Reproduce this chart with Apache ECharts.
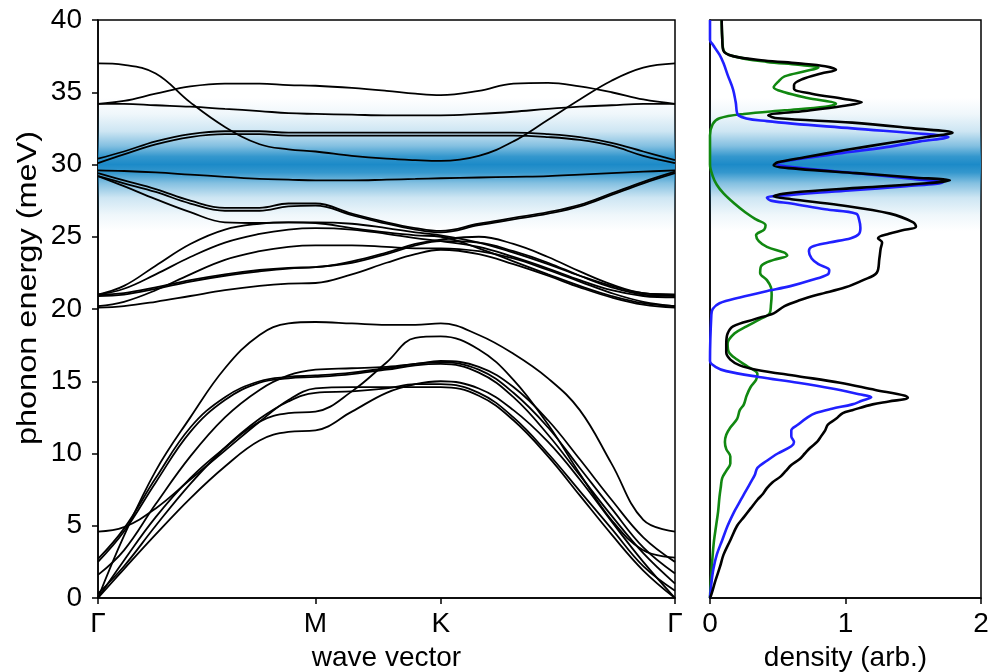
<!DOCTYPE html>
<html><head><meta charset="utf-8">
<script src="https://cdn.jsdelivr.net/npm/echarts@6/dist/echarts.min.js"></script>
<style>html,body{margin:0;padding:0;background:#fff}#c{width:990px;height:672px}</style>
</head><body><div id="c"></div>
<script>
// positions along the Γ-M-K-Γ path (fraction of total length)
const pathPos = [0, 0.045, 0.1, 0.16, 0.22, 0.28, 0.33, 0.377, 0.44, 0.5, 0.55, 0.594, 0.66, 0.72, 0.78, 0.835, 0.89, 0.945, 1.0];
const pathTickPos = [0, 0.377, 0.594, 1];
const pathTickLabels = ['Γ', 'M', 'K', 'Γ'];

// phonon energies (meV) of each band at pathPos
const acousticBands = [
  [0, 4.3, 8.8, 12.5, 15.9, 18.2, 19.0, 19.1, 19.0, 18.9, 18.9, 19.0, 18.2, 16.9, 15.2, 13.0, 9.3, 5.4, 4.6],
  [0, 2.6, 5.6, 8.3, 10.4, 12.2, 12.8, 12.9, 14.3, 16.3, 18.0, 18.1, 17.2, 15.1, 12.0, 8.6, 5.4, 3.3, 2.8],
  [0, 2.0, 4.4, 6.9, 9.1, 10.9, 11.5, 11.6, 12.9, 14.2, 14.8, 15.0, 14.5, 13.0, 10.8, 8.2, 5.3, 2.5, 0],
  [4.6, 4.9, 6.2, 8.2, 10.2, 12.2, 13.7, 14.5, 14.6, 14.6, 14.6, 14.6, 14.0, 12.3, 9.8, 7.1, 4.4, 1.9, 0],
  [2.7, 4.8, 8.3, 11.8, 13.9, 15.0, 15.3, 15.4, 15.6, 15.9, 16.2, 16.3, 15.8, 14.2, 11.8, 9.0, 6.2, 3.5, 1.7],
  [2.5, 4.6, 8.0, 11.5, 13.7, 14.9, 15.2, 15.3, 15.5, 15.8, 16.1, 16.2, 15.6, 13.9, 11.3, 8.5, 5.7, 3.1, 1.0],
  [1.6, 3.3, 6.5, 9.8, 12.5, 14.4, 15.4, 15.8, 15.9, 16.0, 16.2, 16.4, 16.0, 14.6, 12.3, 9.6, 6.8, 4.2, 2.5],
  [0.3, 2.2, 5.0, 7.9, 10.4, 12.4, 13.6, 14.2, 14.3, 14.5, 14.8, 14.8, 14.2, 12.5, 10.0, 7.4, 4.8, 2.2, 0.5]
];
const opticalBands = [
  [37.0, 36.9, 36.3, 34.3, 32.6, 31.4, 31.05, 30.9, 30.6, 30.4, 30.3, 30.25, 30.6, 31.6, 33.1, 34.5, 35.8, 36.7, 37.0],
  [34.2, 34.4, 34.9, 35.4, 35.6, 35.6, 35.5, 35.45, 35.3, 35.1, 34.9, 34.8, 35.1, 35.6, 35.65, 35.4, 35.0, 34.5, 34.2],
  [34.2, 34.2, 34.1, 34.0, 33.85, 33.7, 33.55, 33.5, 33.45, 33.4, 33.4, 33.4, 33.5, 33.65, 33.85, 34.0, 34.1, 34.2, 34.2],
  [30.4, 30.9, 31.6, 32.1, 32.3, 32.3, 32.2, 32.2, 32.2, 32.2, 32.2, 32.2, 32.2, 32.2, 32.1, 31.9, 31.5, 30.9, 30.3],
  [30.1, 30.7, 31.4, 31.9, 32.1, 32.1, 32.0, 32.0, 32.0, 32.0, 32.0, 32.0, 32.0, 32.0, 31.9, 31.7, 31.3, 30.6, 30.1],
  [29.6, 29.55, 29.45, 29.3, 29.15, 29.0, 28.95, 28.9, 28.9, 28.95, 29.0, 29.05, 29.1, 29.15, 29.2, 29.3, 29.4, 29.5, 29.6],
  [29.4, 28.9, 28.3, 27.5, 27.0, 27.0, 27.3, 27.3, 26.6, 26.0, 25.6, 25.4, 25.9, 26.3, 26.7, 27.2, 28.0, 28.8, 29.5],
  [29.2, 28.7, 28.1, 27.3, 26.8, 26.8, 27.1, 27.15, 26.5, 25.9, 25.5, 25.3, 25.8, 26.2, 26.6, 27.1, 27.9, 28.7, 29.4],
  [29.2, 28.5, 27.6, 26.7, 26.0, 25.95, 26.0, 25.95, 25.6, 25.3, 25.1, 25.0, 24.2, 23.3, 22.4, 21.6, 20.9, 20.4, 20.2],
  [21.0, 21.6, 23.0, 24.5, 25.5, 25.9, 26.0, 26.0, 25.9, 25.6, 25.3, 25.1, 24.6, 23.9, 23.1, 22.3, 21.6, 21.1, 21.0],
  [21.0, 21.4, 22.4, 23.6, 24.6, 25.2, 25.5, 25.6, 25.5, 25.2, 24.9, 24.7, 24.3, 23.6, 22.8, 22.0, 21.3, 20.9, 20.8],
  [20.2, 20.5, 21.3, 22.4, 23.4, 24.0, 24.3, 24.4, 24.4, 24.3, 24.2, 24.2, 24.0, 23.5, 22.7, 21.9, 21.1, 20.5, 20.2],
  [21.0, 21.1, 21.5, 22.0, 22.4, 22.7, 22.85, 22.9, 23.3, 23.9, 24.5, 24.8, 25.0, 24.5, 23.6, 22.6, 21.7, 21.1, 21.0],
  [20.9, 21.0, 21.4, 21.9, 22.3, 22.6, 22.8, 22.9, 23.2, 23.8, 24.4, 24.7, 24.6, 24.0, 23.2, 22.3, 21.5, 21.0, 20.9],
  [20.1, 20.2, 20.5, 20.9, 21.3, 21.6, 21.75, 21.8, 22.4, 23.2, 23.8, 24.1, 23.8, 23.1, 22.3, 21.5, 20.8, 20.3, 20.1]
];

// density of states: [energy (meV), density (arb.)]
const dosTotal = [
  [40.0, 0.086], [38.8, 0.09], [37.9, 0.098], [37.5, 0.17], [37.2, 0.4], [37.0, 0.65], [36.8, 0.85], [36.55, 0.93], [36.3, 0.82],
  [35.9, 0.68], [35.5, 0.62], [35.25, 0.62], [34.9, 0.75], [34.55, 0.98], [34.3, 1.12], [34.05, 0.98], [33.7, 0.7], [33.4, 0.43],
  [33.2, 0.5], [32.9, 1.05], [32.5, 1.5], [32.2, 1.79], [31.9, 1.6], [31.5, 1.33], [31.0, 1.0], [30.5, 0.7], [30.15, 0.5],
  [29.95, 0.47], [29.7, 0.65], [29.4, 1.08], [29.1, 1.5], [28.9, 1.77], [28.7, 1.6], [28.4, 1.12], [28.05, 0.6], [27.8, 0.47],
  [27.6, 0.6], [27.2, 0.95], [26.6, 1.33], [26.0, 1.5], [25.7, 1.52], [25.45, 1.42], [25.2, 1.32], [24.9, 1.24], [24.6, 1.27],
  [24.2, 1.26], [23.5, 1.25], [22.5, 1.23], [22.0, 1.13], [21.5, 1.0], [21.0, 0.8], [20.6, 0.66], [20.2, 0.55], [19.7, 0.47],
  [19.3, 0.33], [18.8, 0.17], [18.3, 0.13], [17.6, 0.12], [17.0, 0.12], [16.5, 0.15], [16.1, 0.22], [15.8, 0.34], [15.35, 0.65],
  [14.9, 0.96], [14.4, 1.22], [14.0, 1.44], [13.85, 1.46], [13.6, 1.32], [13.4, 1.2], [13.0, 1.05], [12.8, 0.98], [12.4, 0.93],
  [12.0, 0.87], [11.6, 0.85], [11.2, 0.82], [10.8, 0.79], [10.4, 0.74], [10.0, 0.7], [9.6, 0.66], [9.2, 0.6], [8.8, 0.56],
  [8.4, 0.52], [8.0, 0.46], [7.6, 0.42], [7.2, 0.39], [6.8, 0.35], [6.2, 0.3], [5.6, 0.25], [5.0, 0.2], [4.0, 0.15], [3.0, 0.1],
  [2.2, 0.075], [1.2, 0.04], [0.3, 0.012], [0, 0]
];
const dosBlue = [
  [40, 0], [38.6, 0.0], [38.3, 0.02], [37.6, 0.07], [37.0, 0.1], [36.2, 0.13], [35.2, 0.17], [34.3, 0.19], [33.4, 0.21],
  [33.0, 0.42], [32.5, 1.05], [32.1, 1.6], [31.9, 1.76], [31.6, 1.55], [31.2, 1.3], [30.7, 0.9], [30.3, 0.6], [30.05, 0.49],
  [29.8, 0.62], [29.4, 1.08], [29.0, 1.5], [28.75, 1.72], [28.5, 1.45], [28.2, 1.03], [27.9, 0.6], [27.7, 0.42], [27.5, 0.45],
  [27.3, 0.6], [26.9, 0.85], [26.6, 1.08], [26.2, 1.1], [25.6, 1.11], [25.2, 1.1], [24.9, 1.04], [24.6, 0.88], [24.3, 0.75],
  [24.0, 0.73], [23.5, 0.75], [23.1, 0.8], [22.7, 0.88], [22.4, 0.87], [22.0, 0.75], [21.6, 0.6], [21.2, 0.4], [20.8, 0.22],
  [20.4, 0.07], [20.0, 0.02], [19.6, 0.01], [16.4, 0.0], [16.0, 0.04], [15.7, 0.12], [15.3, 0.36], [14.9, 0.65], [14.5, 0.9],
  [14.1, 1.1], [13.9, 1.19], [13.65, 1.12], [13.4, 1.05], [13.1, 0.9], [12.8, 0.78], [12.5, 0.72], [12.0, 0.65], [11.6, 0.6],
  [11.2, 0.6], [10.8, 0.62], [10.5, 0.6], [10.0, 0.5], [9.5, 0.42], [9.0, 0.35], [8.5, 0.33], [8.0, 0.3], [7.5, 0.27],
  [7.0, 0.24], [6.5, 0.21], [6.0, 0.18], [5.0, 0.13], [4.0, 0.09], [3.0, 0.05], [2.0, 0.025], [1.0, 0.01], [0, 0]
];
const dosGreen = [
  [40, 0.086], [38.8, 0.09], [37.9, 0.1], [37.5, 0.17], [37.1, 0.42], [36.9, 0.65], [36.7, 0.8], [36.45, 0.7], [36.1, 0.55],
  [35.7, 0.5], [35.35, 0.47], [35.0, 0.55], [34.6, 0.72], [34.2, 0.93], [34.0, 0.85], [33.75, 0.55], [33.5, 0.25], [33.2, 0.07],
  [32.8, 0.02], [32.0, 0.0], [30.0, 0.0], [29.2, 0.02], [28.6, 0.05], [28.0, 0.1], [27.3, 0.18], [26.7, 0.26], [26.2, 0.34],
  [25.8, 0.41], [25.5, 0.4], [25.1, 0.34], [24.7, 0.36], [24.3, 0.42], [23.9, 0.55], [23.7, 0.57], [23.4, 0.47], [23.0, 0.38],
  [22.5, 0.37], [22.0, 0.42], [21.5, 0.45], [21.0, 0.455], [20.3, 0.45], [19.7, 0.44], [19.3, 0.37], [18.8, 0.27], [18.3, 0.18],
  [17.6, 0.13], [17.0, 0.14], [16.5, 0.2], [16.0, 0.28], [15.5, 0.35], [15.1, 0.34], [14.6, 0.3], [14.0, 0.27], [13.4, 0.25],
  [13.0, 0.22], [12.4, 0.2], [11.8, 0.15], [11.3, 0.12], [10.8, 0.11], [10.3, 0.12], [9.8, 0.15], [9.3, 0.15], [8.8, 0.12],
  [8.3, 0.09], [7.7, 0.08], [7.0, 0.07], [6.0, 0.06], [5.0, 0.045], [4.0, 0.03], [3.0, 0.02], [2.0, 0.012], [1.0, 0.005], [0, 0]
];

// highlighted energy window (meV)
const highlightTop = 34.6;
const highlightBottom = 25.4;

const FONT = '"Liberation Sans", Arial, sans-serif';
const chart = echarts.init(document.getElementById('c'), null, {renderer: 'canvas'});

const glow = {
  type: 'linear', x: 0, y: 0, x2: 0, y2: 1,
  colorStops: [
    {offset: 0, color: 'rgba(30,140,200,0)'},
    {offset: 0.12, color: 'rgba(30,140,200,0.07)'},
    {offset: 0.25, color: 'rgba(30,140,200,0.22)'},
    {offset: 0.36, color: 'rgba(30,140,200,0.55)'},
    {offset: 0.44, color: 'rgba(30,140,200,0.9)'},
    {offset: 0.5, color: 'rgba(28,138,200,1)'},
    {offset: 0.56, color: 'rgba(30,140,200,0.9)'},
    {offset: 0.64, color: 'rgba(30,140,200,0.55)'},
    {offset: 0.75, color: 'rgba(30,140,200,0.22)'},
    {offset: 0.88, color: 'rgba(30,140,200,0.07)'},
    {offset: 1, color: 'rgba(30,140,200,0)'}
  ]
};

const axisLineStyle = {color: '#000', width: 1.5};
const labelStyle = {color: '#000', fontSize: 28, fontFamily: FONT};

const series = [];
[0, 1].forEach(g => {
  series.push({
    type: 'line', xAxisIndex: g, yAxisIndex: g, data: [[0, -10]], showSymbol: false,
    lineStyle: {width: 0}, silent: true, z: 1,
    markArea: {silent: true, itemStyle: {color: glow}, data: [[{yAxis: highlightTop}, {yAxis: highlightBottom}]]}
  });
});
acousticBands.concat(opticalBands).forEach(b => {
  series.push({
    type: 'line', xAxisIndex: 0, yAxisIndex: 0, showSymbol: false, smooth: 0.4, silent: true, z: 3,
    lineStyle: {color: '#000', width: 1.8},
    data: pathPos.map((x, i) => [x, b[i]])
  });
});
[[dosGreen, '#118811'], [dosBlue, '#2020ff'], [dosTotal, '#000000']].forEach(([d, c]) => {
  series.push({
    type: 'line', xAxisIndex: 1, yAxisIndex: 1, showSymbol: false, smooth: 0.35, silent: true, z: 3,
    lineStyle: {color: c, width: 2.6},
    data: d.map(p => [p[1], p[0]])
  });
});

chart.setOption({
  animation: false,
  backgroundColor: '#fff',
  grid: [
    {left: 98, top: 20, width: 577, height: 578, show: true, borderColor: '#000', borderWidth: 1.5, containLabel: false, outerBoundsMode: 'none'},
    {left: 710, top: 20, width: 271, height: 578, show: true, borderColor: '#000', borderWidth: 1.5, containLabel: false, outerBoundsMode: 'none'}
  ],
  graphic: [{
    type: 'text', x: 28, y: 288, rotation: Math.PI / 2, scaleX: 1.16, silent: true,
    style: {text: 'phonon energy (meV)', fill: '#000', font: '28px "Liberation Sans", Arial, sans-serif', textAlign: 'center', textVerticalAlign: 'middle'}
  }],
  xAxis: [
    {type: 'value', gridIndex: 0, min: 0, max: 1,
      axisLine: {show: true, lineStyle: axisLineStyle},
      axisTick: {show: true, customValues: pathTickPos, length: 6, lineStyle: axisLineStyle},
      axisLabel: Object.assign({customValues: pathTickPos, margin: 12, showMinLabel: true, showMaxLabel: true,
        formatter: v => { const i = pathTickPos.findIndex(p => Math.abs(p - v) < 1e-6); return i >= 0 ? pathTickLabels[i] : ''; }}, labelStyle),
      splitLine: {show: false},
      name: 'wave vector', nameLocation: 'middle', nameGap: 46, nameTextStyle: labelStyle},
    {type: 'value', gridIndex: 1, min: 0, max: 2, interval: 1,
      axisLine: {show: true, lineStyle: axisLineStyle},
      axisTick: {show: true, length: 6, lineStyle: axisLineStyle},
      axisLabel: Object.assign({margin: 12}, labelStyle),
      splitLine: {show: false},
      name: 'density (arb.)', nameLocation: 'middle', nameGap: 46, nameTextStyle: labelStyle}
  ],
  yAxis: [
    {type: 'value', gridIndex: 0, min: 0, max: 40, interval: 5,
      axisLine: {show: true, lineStyle: axisLineStyle},
      axisTick: {show: true, length: 6, lineStyle: axisLineStyle},
      axisLabel: Object.assign({margin: 16}, labelStyle),
      splitLine: {show: false}},
    {type: 'value', gridIndex: 1, min: 0, max: 40, interval: 5,
      axisLine: {show: true, lineStyle: axisLineStyle},
      axisTick: {show: false}, axisLabel: {show: false}, splitLine: {show: false}}
  ],
  series: series
});
</script></body></html>
